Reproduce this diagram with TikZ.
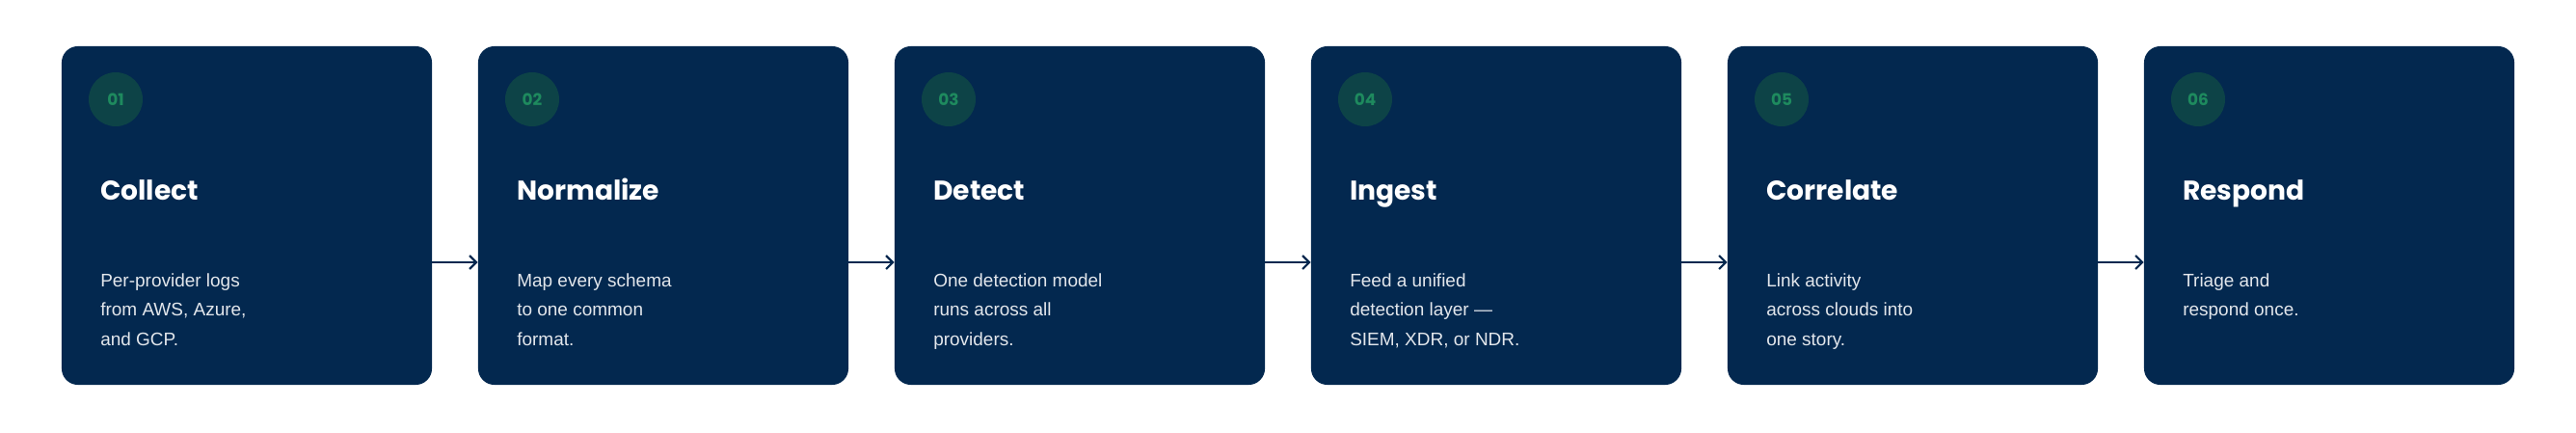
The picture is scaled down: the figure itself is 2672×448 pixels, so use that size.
\documentclass[tikz,border=0pt]{standalone}
\usepackage{fontspec}
\setmainfont{Liberation Sans}
\newfontfamily\headfont{Poppins}
\usetikzlibrary{arrows.meta, positioning, calc}
\definecolor{navy}{HTML}{03284F}
\definecolor{badge}{HTML}{0D4347}
\definecolor{badgetext}{HTML}{1E8A5E}
\definecolor{bodytext}{HTML}{E3E7EC}

\begin{document}
\begin{tikzpicture}[x=0.025cm, y=-0.025cm,
  stepcard/.style={fill=navy, rounded corners=12pt, minimum width=9.6cm, minimum height=8.775cm, inner sep=0pt},
  numbadge/.style={circle, fill=badge, minimum size=1.4cm, inner sep=0pt, text=badgetext, font=\headfont\bfseries\fontsize{12}{12}\selectfont},
  steptitle/.style={anchor=base west, text=white, font=\headfont\bfseries\fontsize{20}{20}\selectfont, inner sep=0pt},
  stepbody/.style={anchor=north west, text=bodytext, align=left, inner sep=0pt, font=\fontsize{13.5}{22}\selectfont},
  flow/.style={draw=navy, line width=1.6pt, -{Straight Barb[length=5pt, width=10pt, line width=1.6pt]}}
]
  \useasboundingbox (0,0) rectangle (2672,448);

  % cards
  \foreach \i/\title/\body [count=\n from 0] in {
    01/Collect/{Per-provider logs\\from AWS, Azure,\\and GCP.},
    02/Normalize/{Map every schema\\to one common\\format.},
    03/Detect/{One detection model\\runs across all\\providers.},
    04/Ingest/{Feed a unified\\detection layer —\\SIEM, XDR, or NDR.},
    05/Correlate/{Link activity\\across clouds into\\one story.},
    06/Respond/{Triage and\\respond once.}} {
    \node[stepcard] (card\i) at ({256+432*\n},223.5) {};
    \node[numbadge] (num\i) at ({120+432*\n},103) {\i};
    \node[steptitle] (title\i) at ({104+432*\n},207) {\title};
    \node[stepbody] (body\i) at ({104+432*\n},283) {\body};
  }

  % arrows between cards
  \foreach \a/\b in {01/02, 02/03, 03/04, 04/05, 05/06}
    \draw[flow] (card\a.east |- 0,272) -- (card\b.west |- 0,272);

\end{tikzpicture}
\end{document}
